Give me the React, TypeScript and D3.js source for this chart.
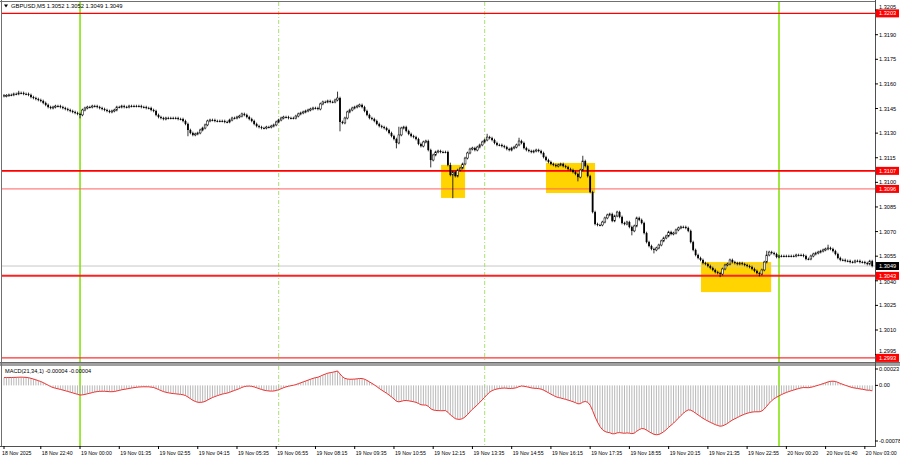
import React from 'react';
import * as d3 from 'd3';

// ---------- DATA ----------
const symbolTitle = 'GBPUSD,M5';
const lastOHLC = ['1.3052', '1.3052', '1.3049', '1.3049'];
const firstOpen = 1.3153;

// M5 closes, bar 0 = 18 Nov 21:25 ... bar 354 = 20 Nov 03:15
const closes = [
  1.31526, 1.3153, 1.31533, 1.31533, 1.31539, 1.31539, 1.31545, 1.31545, 1.31539, 1.31539,
  1.31533, 1.3152, 1.31514, 1.31508, 1.31502, 1.31496, 1.31484, 1.31472, 1.31459, 1.31453,
  1.31459, 1.31465, 1.31465, 1.31459, 1.31453, 1.31447, 1.31441, 1.31435, 1.31429, 1.31423,
  1.31417, 1.31411, 1.31441, 1.31453, 1.31459, 1.31459, 1.31465, 1.31465, 1.31459, 1.31453,
  1.31447, 1.31441, 1.31435, 1.31429, 1.31435, 1.31441, 1.31459, 1.31459, 1.31465, 1.31459,
  1.31459, 1.31465, 1.31465, 1.31465, 1.31465, 1.31465, 1.31459, 1.31459, 1.31453, 1.31453,
  1.31441, 1.31435, 1.31411, 1.31398, 1.31392, 1.31386, 1.31392, 1.31392, 1.31392, 1.31392,
  1.31392, 1.31386, 1.31386, 1.31374, 1.31356, 1.31319, 1.31301, 1.31289, 1.31295, 1.31301,
  1.31319, 1.31331, 1.3135, 1.31374, 1.3138, 1.3138, 1.31374, 1.31374, 1.31374, 1.31374,
  1.31368, 1.31368, 1.3138, 1.31392, 1.31392, 1.31398, 1.31404, 1.31417, 1.31411, 1.31398,
  1.31386, 1.31374, 1.31356, 1.31343, 1.31337, 1.31331, 1.31331, 1.31337, 1.31337, 1.31343,
  1.3135, 1.31368, 1.3138, 1.31392, 1.31398, 1.31398, 1.31392, 1.31392, 1.31392, 1.31404,
  1.31417, 1.31423, 1.31429, 1.31435, 1.31441, 1.31447, 1.31453, 1.31453, 1.31447, 1.31478,
  1.3149, 1.3149, 1.31496, 1.3149, 1.3149, 1.31502, 1.31514, 1.31368, 1.31362, 1.31392,
  1.31429, 1.31441, 1.31453, 1.31459, 1.31465, 1.31472, 1.31459, 1.31435, 1.31411, 1.31392,
  1.31386, 1.31374, 1.31356, 1.31343, 1.31337, 1.31331, 1.31319, 1.31301, 1.31282, 1.31264,
  1.3124, 1.31289, 1.31331, 1.31337, 1.31313, 1.31295, 1.31282, 1.31276, 1.31264, 1.31234,
  1.31221, 1.31246, 1.31252, 1.31197, 1.31136, 1.31167, 1.31185, 1.31191, 1.31185, 1.31185,
  1.31185, 1.31106, 1.31045, 1.31063, 1.31038, 1.31075, 1.31087, 1.31112, 1.31148, 1.31179,
  1.31203, 1.31209, 1.31197, 1.31215, 1.31228, 1.31246, 1.31258, 1.31276, 1.3127, 1.31258,
  1.3124, 1.31228, 1.31228, 1.31221, 1.31215, 1.31203, 1.31197, 1.31209, 1.31215, 1.31228,
  1.31252, 1.3124, 1.31209, 1.31197, 1.31191, 1.31185, 1.31191, 1.31197, 1.31191, 1.31179,
  1.31154, 1.31136, 1.31124, 1.31112, 1.31106, 1.31099, 1.31106, 1.31112, 1.31099, 1.31093,
  1.31081, 1.31075, 1.31063, 1.31051, 1.31032, 1.31075, 1.3113, 1.31099, 1.31038, 1.30941,
  1.30819, 1.30746, 1.3074, 1.3074, 1.30758, 1.30783, 1.30801, 1.30807, 1.30765, 1.30795,
  1.30819, 1.30789, 1.30752, 1.30746, 1.30758, 1.30728, 1.30704, 1.30734, 1.30783, 1.30771,
  1.30752, 1.30691, 1.30636, 1.30612, 1.30594, 1.30588, 1.306, 1.30618, 1.30643, 1.30661,
  1.30673, 1.30697, 1.30685, 1.30691, 1.3071, 1.30722, 1.30728, 1.30728, 1.30722, 1.30704,
  1.30636, 1.30588, 1.30557, 1.30539, 1.30527, 1.30508, 1.30502, 1.3049, 1.30478, 1.30466,
  1.30453, 1.30447, 1.30441, 1.30472, 1.30496, 1.30502, 1.30527, 1.30514, 1.30508, 1.30502,
  1.30508, 1.30502, 1.30496, 1.3049, 1.30484, 1.30472, 1.3046, 1.30447, 1.30441, 1.30466,
  1.30514, 1.30557, 1.30575, 1.30569, 1.30563, 1.30545, 1.30551, 1.30551, 1.30551, 1.30551,
  1.30551, 1.30551, 1.30551, 1.30557, 1.30557, 1.30557, 1.30551, 1.30533, 1.30533, 1.30551,
  1.30563, 1.30569, 1.30575, 1.30581, 1.30588, 1.30594, 1.306, 1.30594, 1.30581, 1.30563,
  1.30539, 1.30527, 1.30527, 1.30521, 1.30521, 1.30514, 1.30514, 1.30521, 1.30521, 1.30514,
  1.30514, 1.30508, 1.30502, 1.3052, 1.3049,
];

// notable wicks: [bar, price]
const wickHighs: [number, number][] = [
  [6, 1.3155], [136, 1.31545], [161, 1.31331], [182, 1.31112], [197, 1.31288], [210, 1.31264],
  [236, 1.31154], [311, 1.30575], [336, 1.30612],
];
const wickLows: [number, number][] = [
  [31, 1.31398], [75, 1.31289], [137, 1.31319], [160, 1.31215], [174, 1.31099], [183, 1.30911],
  [234, 1.31014], [256, 1.30685], [265, 1.30575], [292, 1.3043], [308, 1.30435],
];

const timeLabels = [
  '18 Nov 2025', '18 Nov 22:40', '19 Nov 00:00', '19 Nov 01:35', '19 Nov 02:55', '19 Nov 04:15',
  '19 Nov 05:35', '19 Nov 06:55', '19 Nov 08:15', '19 Nov 09:35', '19 Nov 10:55', '19 Nov 12:15',
  '19 Nov 13:35', '19 Nov 14:55', '19 Nov 16:15', '19 Nov 17:35', '19 Nov 18:55', '19 Nov 20:15',
  '19 Nov 21:35', '19 Nov 22:55', '20 Nov 00:20', '20 Nov 01:40', '20 Nov 03:00',
];
const timeLabelBars = [0, 15, 31, 47, 63, 79, 95, 111, 127, 143, 159, 175, 191, 207, 223, 239, 255, 271, 287, 303, 319, 335, 351];

const priceTicks = [1.3205, 1.319, 1.3175, 1.316, 1.3145, 1.313, 1.3115, 1.31, 1.3085, 1.307, 1.3055, 1.304, 1.3025, 1.301, 1.2995];
const levelPrices = [1.3203, 1.3107, 1.3096, 1.3043, 1.2993];
const bidPrice = 1.3049;

const dayLineBars = [31, 316];
const sessionLineBars = [112, 196];

const boxStartBars = [178.2, 221, 284.2];
const boxEndBars = [188, 241, 312.8];
const boxTopPrices = [1.31106, 1.31118, 1.30514];
const boxBottomPrices = [1.30905, 1.30935, 1.30331];

const macdFast = 21;
const macdSlow = 34;
const macdFastSeed = 1.31509;
const macdSlowSeed = 1.31498;
const macdTicks = [0.00023, 0, -0.00078];
const macdTickLabels = ['0.00023', '0.00', '-0.00078'];
const macdTitle = 'MACD(21,34,1) -0.00004 -0.00004';

// ---------- CHART ----------
const W = 900;
const H = 460;
const FONT = 'Liberation Sans, Arial, sans-serif';

export default function App() {
  const x = d3.scaleLinear().domain([0, closes.length - 1]).range([4, 872.2]);
  const y = d3.scaleLinear().domain([1.319, 1.301]).range([34.7, 330]);
  const ym = d3.scaleLinear().domain([0.00023, -0.00078]).range([369, 441]);

  const mainTop = 2, mainBottom = 362, axisX = 875;
  const macdTop = 366, macdBottom = 446;

  const highMap = new Map(wickHighs);
  const lowMap = new Map(wickLows);
  const candles = closes.map((c, i) => {
    const o = i === 0 ? firstOpen : closes[i - 1];
    const hi = Math.max(o, c, highMap.get(i) ?? -Infinity);
    const lo = Math.min(o, c, lowMap.get(i) ?? Infinity);
    return { i, o, c, hi, lo };
  });

  // MACD from the closes (EMA fast - EMA slow), signal SMA(1) equals MACD
  const kf = 2 / (macdFast + 1), ks = 2 / (macdSlow + 1);
  let ef = macdFastSeed, es = macdSlowSeed;
  const macd = closes.map((c) => {
    ef = ef + kf * (c - ef);
    es = es + ks * (c - es);
    return ef - es;
  });
  const macdLine = d3.line<number>().x((_, i) => x(i)).y((v) => ym(v))(macd) || '';

  const levelWidth = [1.4, 1.8, 1, 2, 1.2];
  const levelColor = ['#ff0000', '#ff0000', '#ff6060', '#ff2020', '#ff3030'];
  const labelH = 8;

  const wickExt = 0.00008; // drawing style: short wick beyond each body

  // move a price-tick label just above / below a level label when they would collide
  const tickBaseline = (p: number) => {
    const ty = y(p);
    const hit = [...levelPrices, bidPrice].find((lp) => Math.abs(y(lp) - ty) < 6);
    if (hit === undefined) return ty + 2;
    const ly = y(hit);
    if (ty < ly) return Math.min(ty + 2, ly - labelH / 2 - 0.6);
    return Math.max(ty + 2, ly + labelH / 2 + 4.6);
  };

  return (
    <svg width={W} height={H} style={{ position: 'fixed', left: 0, top: 0, background: '#fff' }} fontFamily={FONT}>
      <defs>
        <clipPath id="mainClip"><rect x={2} y={mainTop} width={axisX - 2} height={mainBottom - mainTop} /></clipPath>
        <clipPath id="macdClip"><rect x={2} y={macdTop} width={axisX - 2} height={macdBottom - macdTop} /></clipPath>
      </defs>
      <rect x={0} y={0} width={W} height={H} fill="#fff" />

      {/* ---- main panel ---- */}
      <g clipPath="url(#mainClip)">
        {boxStartBars.map((b, k) => (
          <rect key={'box' + k} x={x(b)} y={y(boxTopPrices[k])} width={x(boxEndBars[k]) - x(b)}
            height={y(boxBottomPrices[k]) - y(boxTopPrices[k])} fill="#ffd400" />
        ))}
        <line x1={2} x2={axisX} y1={y(bidPrice)} y2={y(bidPrice)} stroke="#c8c8c8" strokeWidth={1} />
        {sessionLineBars.map((b) => (
          <line key={'s' + b} x1={x(b)} x2={x(b)} y1={mainTop} y2={mainBottom} stroke="#a8e070" strokeWidth={1} strokeDasharray="4,2,1,2" />
        ))}
        {dayLineBars.map((b) => (
          <line key={'d' + b} x1={x(b)} x2={x(b)} y1={mainTop} y2={mainBottom} stroke="#7fe000" strokeWidth={1.5} />
        ))}
        {levelPrices.map((p, k) => (
          <line key={'l' + k} x1={2} x2={axisX} y1={y(p)} y2={y(p)} stroke={levelColor[k]} strokeWidth={levelWidth[k]} />
        ))}
        {candles.map((d) => {
          const cx = x(d.i);
          const top = Math.max(d.o, d.c);
          const bot = Math.min(d.o, d.c);
          const bull = d.c > d.o;
          const bh = Math.max(0.9, y(bot) - y(top));
          return (
            <g key={d.i}>
              <line x1={cx} x2={cx} y1={y(d.hi + wickExt)} y2={y(d.lo - wickExt)} stroke="#000" strokeWidth={0.8} />
              <rect x={cx - 0.9} y={y(top)} width={1.8} height={bh}
                fill={bull ? '#fff' : '#000'} stroke="#000" strokeWidth={bull ? 0.55 : 0} />
            </g>
          );
        })}
      </g>

      {/* header */}
      <path d="M4,4.5 L8,4.5 L6,7.5 Z" fill="#000" />
      <text x={11} y={8} fontSize={5.8} fill="#000">{symbolTitle}  {lastOHLC.join(' ')}</text>

      {/* ---- separator ---- */}
      <rect x={0} y={mainBottom} width={W} height={macdTop - mainBottom} fill="#a0a0a0" />
      <line x1={0} x2={W} y1={mainBottom + 0.5} y2={mainBottom + 0.5} stroke="#6a6a6a" />

      {/* ---- MACD panel ---- */}
      <g clipPath="url(#macdClip)">
        {sessionLineBars.map((b) => (
          <line key={'ms' + b} x1={x(b)} x2={x(b)} y1={macdTop} y2={macdBottom} stroke="#a8e070" strokeWidth={1} strokeDasharray="4,2,1,2" />
        ))}
        {dayLineBars.map((b) => (
          <line key={'md' + b} x1={x(b)} x2={x(b)} y1={macdTop} y2={macdBottom} stroke="#7fe000" strokeWidth={1.5} />
        ))}
        {macd.map((v, i) => (
          <line key={'h' + i} x1={x(i)} x2={x(i)} y1={ym(0)} y2={ym(v)} stroke="#b8b8b8" strokeWidth={1} />
        ))}
        <path d={macdLine} fill="none" stroke="#f03030" strokeWidth={1} />
      </g>
      <text x={5} y={373} fontSize={5.6} fill="#000">{macdTitle}</text>

      {/* ---- frames ---- */}
      <line x1={1.5} x2={1.5} y1={0} y2={macdBottom} stroke="#707070" />
      <line x1={0} x2={axisX} y1={1.5} y2={1.5} stroke="#707070" />
      <line x1={axisX + 0.5} x2={axisX + 0.5} y1={0} y2={macdBottom} stroke="#505050" />
      <line x1={0} x2={axisX + 1} y1={macdBottom + 0.5} y2={macdBottom + 0.5} stroke="#505050" />

      {/* ---- price axis ---- */}
      {priceTicks.map((p) => (
        <g key={'pt' + p}>
          <line x1={axisX} x2={axisX + 3} y1={y(p)} y2={y(p)} stroke="#000" />
          <text x={axisX + 4} y={tickBaseline(p)} fontSize={5.6} fill="#000">{p.toFixed(4)}</text>
        </g>
      ))}
      {levelPrices.map((p) => (
        <g key={'lp' + p}>
          <rect x={axisX + 1} y={y(p) - labelH / 2} width={23} height={labelH} fill="#ff0000" />
          <text x={axisX + 4} y={y(p) + 2} fontSize={5.6} fill="#fff">{p.toFixed(4)}</text>
        </g>
      ))}
      <rect x={axisX + 1} y={y(bidPrice) - labelH / 2} width={23} height={labelH} fill="#000" />
      <text x={axisX + 4} y={y(bidPrice) + 2} fontSize={5.6} fill="#fff">{bidPrice.toFixed(4)}</text>

      {/* ---- MACD axis ---- */}
      {macdTicks.map((v, k) => (
        <g key={'mt' + k}>
          <line x1={axisX} x2={axisX + 3} y1={ym(v)} y2={ym(v)} stroke="#000" />
          <text x={axisX + 4} y={ym(v) + 2} fontSize={5.6} fill="#000">{macdTickLabels[k]}</text>
        </g>
      ))}

      {/* ---- time axis ---- */}
      {timeLabelBars.map((b, k) => (
        <g key={'tl' + k}>
          <line x1={x(b)} x2={x(b)} y1={macdBottom} y2={macdBottom + 3} stroke="#000" />
          <text x={k === 0 ? 2 : x(b) + 1} y={455} fontSize={5.2} fill="#000">{timeLabels[k]}</text>
        </g>
      ))}
    </svg>
  );
}
